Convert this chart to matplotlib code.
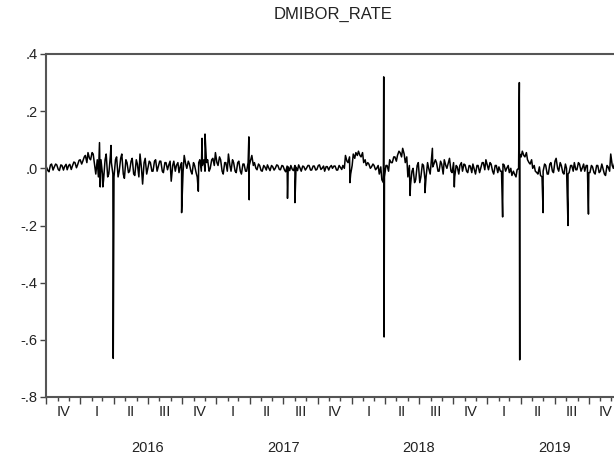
import numpy as np
import pandas as pd
import matplotlib
matplotlib.use('Agg')
import matplotlib.pyplot as plt
import matplotlib.dates as mdates
from matplotlib.transforms import blended_transform_factory

plt.rcParams['font.family'] = ['Liberation Sans', 'DejaVu Sans']

# ================== DATA ==================
# weekly readings (Fridays), Oct 2015 - Dec 2019
base_start = '2015-10-02'
base_vals = [
    0.005, -0.012, 0.015, 0.004, 0.012, -0.008, 0.010, 0.006, -0.005, 0.014,
    0.008, 0.020, 0.012, 0.030, 0.025, 0.045, 0.055, 0.030, 0.050, -0.020,
    -0.030, 0.030, -0.040, 0.050, -0.020, 0.020, -0.030, 0.040, -0.010, 0.050,
    -0.035, 0.020, -0.010, 0.035, -0.025, 0.015, 0.050, -0.055, 0.035, 0.000,
    0.020, -0.010, 0.030, 0.005, 0.025, -0.015, 0.020, 0.010, -0.045, 0.025,
    0.010, -0.015, 0.020, 0.045, 0.000, 0.015, -0.020, 0.010, -0.030, 0.030,
    0.010, -0.010, 0.030, 0.000, 0.035, 0.055, 0.010, 0.030, -0.020, 0.020,
    0.050, -0.010, 0.020, -0.015, 0.025, -0.020, 0.015, -0.010, 0.010, 0.045,
    0.020, -0.005, 0.010, -0.010, 0.005, 0.012, -0.008, 0.006, 0.000, 0.010,
    -0.005, 0.008, -0.012, 0.005, 0.010, -0.008, 0.004, 0.012, -0.010, 0.006,
    0.000, 0.010, -0.006, 0.008, -0.004, 0.012, 0.000, -0.010, 0.006, 0.004,
    0.000, 0.008, -0.006, 0.004, 0.010, 0.045, 0.020, -0.020, 0.050, 0.055,
    0.060, 0.040, 0.020, 0.010, 0.015, 0.005, 0.010, 0.000, -0.020, -0.040,
    -0.030, 0.010, 0.030, 0.020, 0.040, 0.045, 0.055, 0.070, 0.020, -0.030,
    -0.060, 0.000, -0.040, 0.020, -0.030, 0.010, -0.030, 0.000, 0.025, 0.015,
    0.020, -0.010, 0.015, 0.030, 0.000, 0.035, -0.015, -0.030, 0.005, 0.010,
    -0.010, 0.012, -0.015, 0.008, 0.015, -0.020, 0.010, 0.000, 0.020, 0.030,
    -0.005, 0.015, -0.020, 0.010, 0.005, -0.010, 0.012, 0.000, -0.015, -0.025,
    -0.020, -0.005, 0.050, 0.060, 0.040, 0.030, 0.015, 0.000, -0.010, -0.020,
    -0.025, -0.010, 0.010, -0.020, 0.020, -0.015, 0.035, -0.010, 0.010, -0.020,
    0.000, -0.015, 0.010, 0.020, -0.005, 0.015, 0.000, -0.010, 0.010, -0.015,
    0.005, -0.020, 0.010, -0.010, 0.000, -0.025, 0.005, 0.050, 0.000, -0.010,
    0.005, 0.000,
]

# mid-week readings (Tuesdays following each Friday above)
mid_vals = [
    -0.008, 0.012, -0.006, 0.015, -0.004, 0.012, -0.006, 0.014, 0.010, -0.004,
    0.022, 0.002, 0.028, 0.015, 0.040, 0.020, 0.035, 0.055, 0.010, 0.030,
    0.020, -0.020, 0.030, -0.030, 0.040, -0.020, 0.030, -0.030, 0.035, -0.020,
    0.030, -0.015, 0.025, -0.020, 0.030, -0.030, 0.000, 0.020, -0.020, 0.025,
    -0.010, 0.025, -0.010, 0.025, -0.010, 0.020, -0.005, 0.025, 0.010, -0.010,
    0.020, 0.010, -0.010, 0.015, 0.025, -0.010, 0.020, -0.015, 0.020, -0.010,
    0.030, 0.020, -0.010, 0.030, 0.010, 0.020, 0.040, -0.010, 0.020, -0.010,
    0.010, 0.030, -0.010, 0.020, -0.010, 0.015, -0.010, 0.020, 0.030, 0.010,
    0.000, 0.015, -0.008, 0.010, -0.006, 0.000, 0.010, -0.006, 0.012, -0.004,
    0.010, -0.006, 0.008, -0.008, -0.004, 0.010, -0.008, 0.000, 0.008, -0.006,
    0.010, -0.006, 0.008, -0.006, 0.010, -0.004, 0.008, 0.006, -0.006, 0.010,
    0.008, -0.006, 0.010, -0.004, 0.000, 0.025, 0.040, 0.010, 0.035, 0.045,
    0.045, 0.055, 0.030, 0.020, 0.000, 0.015, -0.005, 0.010, 0.005, -0.050,
    0.010, -0.010, 0.020, 0.040, 0.025, 0.060, 0.040, 0.050, 0.040, 0.010,
    -0.010, -0.050, 0.010, -0.050, 0.015, -0.040, 0.020, -0.020, 0.005, 0.030,
    -0.010, 0.025, -0.020, 0.010, 0.020, -0.010, 0.020, 0.010, -0.020, 0.020,
    0.015, -0.010, 0.010, -0.015, -0.005, 0.010, -0.015, 0.020, -0.005, 0.010,
    0.020, -0.010, 0.010, -0.015, -0.010, 0.015, -0.010, 0.010, 0.000, -0.010,
    -0.030, 0.000, 0.040, 0.045, 0.055, 0.020, 0.030, 0.010, -0.015, 0.005,
    -0.030, 0.015, -0.020, 0.015, -0.010, 0.025, 0.000, 0.020, -0.015, 0.015,
    -0.020, 0.010, -0.010, -0.005, 0.020, -0.010, 0.015, 0.010, -0.015, 0.010,
    -0.015, 0.010, -0.015, 0.015, -0.020, 0.010, -0.010, 0.010, 0.020, 0.005,
    -0.010, 0.010,
]

# single-day jumps (mostly around quarter ends)
spike_dates = [
    '2016-02-22', '2016-02-24', '2016-03-02', '2016-03-24', '2016-03-30',
    '2016-09-30', '2016-11-14', '2016-11-24', '2016-12-02',
    '2017-03-30', '2017-03-31', '2017-07-12', '2017-08-01', '2017-12-27',
    '2018-03-28', '2018-03-29', '2018-06-07', '2018-07-17', '2018-08-06',
    '2018-10-04', '2019-02-11', '2019-03-28', '2019-03-29', '2019-05-31',
    '2019-08-06', '2019-09-30',
]
spike_vals = [
    0.09, -0.065, -0.065, 0.08, -0.665,
    -0.155, -0.08, 0.105, 0.12,
    0.11, -0.11, -0.105, -0.12, -0.05,
    0.32, -0.59, -0.095, -0.085, 0.07,
    -0.065, -0.17, 0.30, -0.67, -0.155,
    -0.20, -0.16,
]

quarter_labels = ['IV', 'I', 'II', 'III', 'IV', 'I', 'II', 'III', 'IV',
                  'I', 'II', 'III', 'IV', 'I', 'II', 'III', 'IV']
year_labels = ['2016', '2017', '2018', '2019']
ytick_vals = [0.4, 0.2, 0.0, -0.2, -0.4, -0.6, -0.8]
ytick_labels = ['.4', '.2', '.0', '-.2', '-.4', '-.6', '-.8']

fridays = pd.date_range(base_start, periods=len(base_vals), freq='W-FRI')
base = pd.Series(base_vals, index=fridays)
mid = pd.Series(mid_vals, index=fridays + pd.Timedelta(days=4))
spikes = pd.Series(spike_vals, index=pd.to_datetime(spike_dates))
rate = pd.concat([base, mid, spikes]).sort_index()

# ================== PLOT ==================
fig = plt.figure(figsize=(6.14, 4.59), dpi=100)
ax = fig.add_axes([46 / 614, 62 / 459, 577 / 614, 343 / 459])

ax.plot(rate.index, rate.values, color='black', linewidth=1.1)

ax.set_xlim(pd.Timestamp('2015-10-01'), pd.Timestamp('2020-01-01'))
ax.set_ylim(-0.8, 0.4)

ax.set_yticks(ytick_vals)
ax.set_yticklabels(ytick_labels, fontsize=10.5, color='#222222')

ax.xaxis.set_major_locator(mdates.MonthLocator(bymonth=[1, 4, 7, 10]))
ax.xaxis.set_minor_locator(mdates.MonthLocator())
ax.tick_params(axis='x', which='major', length=5, width=1.0, color='#444444', labelbottom=False)
ax.tick_params(axis='x', which='minor', length=3, width=1.0, color='#444444')
ax.tick_params(axis='y', length=4, width=1.0, color='#444444', pad=2)

for side in ['left', 'top', 'bottom', 'right']:
    ax.spines[side].set_color('#555555')
    ax.spines[side].set_linewidth(1.5)

trans = blended_transform_factory(ax.transData, ax.transAxes)
quarters = pd.period_range('2015Q4', '2019Q4', freq='Q')
for q, lab in zip(quarters, quarter_labels):
    q_mid = q.start_time + (q.end_time - q.start_time) / 2
    ax.text(q_mid, -0.044, lab, transform=trans, ha='center', va='center',
            fontsize=10.5, color='#222222')

for lab in year_labels:
    ax.text(pd.Timestamp(f'{lab}-07-01'), -0.149, lab, transform=trans,
            ha='center', va='center', fontsize=10.5, color='#222222')

fig.text(333 / 614, 1 - 14 / 459, 'DMIBOR_RATE', ha='center', va='center',
         fontsize=12, color='#222222')

fig.savefig('out.png', dpi=100)
